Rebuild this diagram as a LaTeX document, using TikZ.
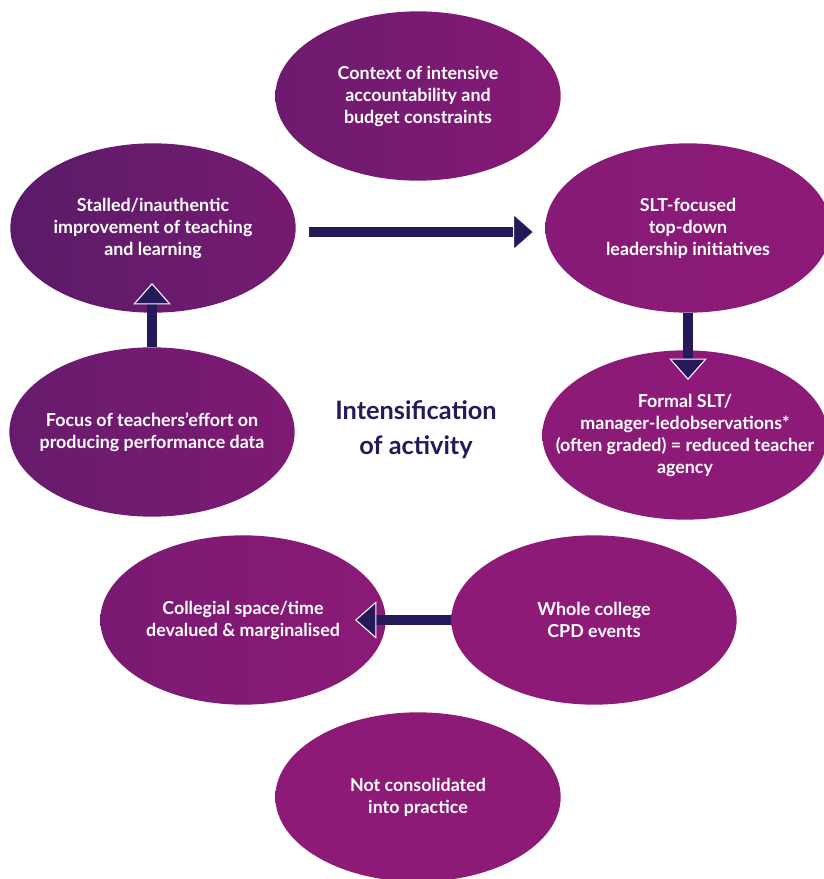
\documentclass[tikz,border=0pt]{standalone}
\usepackage{fontspec}
\setmainfont{Lato}
\usetikzlibrary{arrows.meta, positioning, shapes.geometric}
\definecolor{plumdark}{HTML}{5A1B69}
\definecolor{plum}{HTML}{8E1A78}
\definecolor{inkblue}{HTML}{25195A}

\begin{document}
\begin{tikzpicture}[x=0.75pt, y=-0.75pt,
    bubble/.style={ellipse, minimum width=214pt, minimum height=127pt, inner xsep=-30pt, inner ysep=0pt,
                   align=center, text=white, font=\bfseries\fontsize{13.4}{16.5}\selectfont},
    tone/.style 2 args={left color=plum!#1!plumdark, right color=plum!#2!plumdark},
    flow/.style={draw=inkblue, line width=7.5pt,
                 -{Triangle[width=28pt, length=16pt, fill=inkblue, color=white, line width=0.8pt]}}
]
\clip (0,0) rectangle (824,879);

% Ellipses
\node[bubble, tone={35}{85}] (context) at (418,96) {Context of intensive\\accountability and\\budget constraints};
\node[bubble, tone={0}{55}] (stalled) at (153,228) {Stalled/inauthentic\\improvement of teaching\\and learning};
\node[bubble, tone={85}{100}] (slt) at (688,228) {SLT-focused\\top-down\\leadership initiatives};
\node[bubble, tone={25}{70}] (focus) at (152,432) {Focus of teachers’effort on\\producing performance data};
\node[bubble, tone={95}{100}] (formal) at (685,435) {Formal SLT/\\manager-ledobservations*\\(often graded) = reduced teacher\\agency};
\node[bubble, tone={60}{95}] (collegial) at (243,620) {Collegial space/time\\devalued \& marginalised};
\node[bubble, tone={100}{100}] (whole) at (594,620) {Whole college\\CPD events};
\node[bubble, tone={100}{100}] (notcons) at (418,797) {Not consolidated\\into practice};

% Centre label
\node[align=center, text=inkblue, font=\bfseries\fontsize{19}{26}\selectfont] (title) at (416,430) {Intensification\\of activity};

% Arrow tips inside the ellipses
\coordinate (downtip) at (688,380);
\coordinate (uptip) at (152,283);
\coordinate (lefttip) at (355,620);

% Arrows
\draw[flow, shorten <=10pt, shorten >=8pt] ([yshift=-3pt]stalled.east) -- ([yshift=-3pt]slt.west);
\draw[flow] (slt.south) -- (downtip);
\draw[flow] (focus.north) -- (uptip);
\draw[flow] (whole.west) -- (lefttip);

\end{tikzpicture}
\end{document}
